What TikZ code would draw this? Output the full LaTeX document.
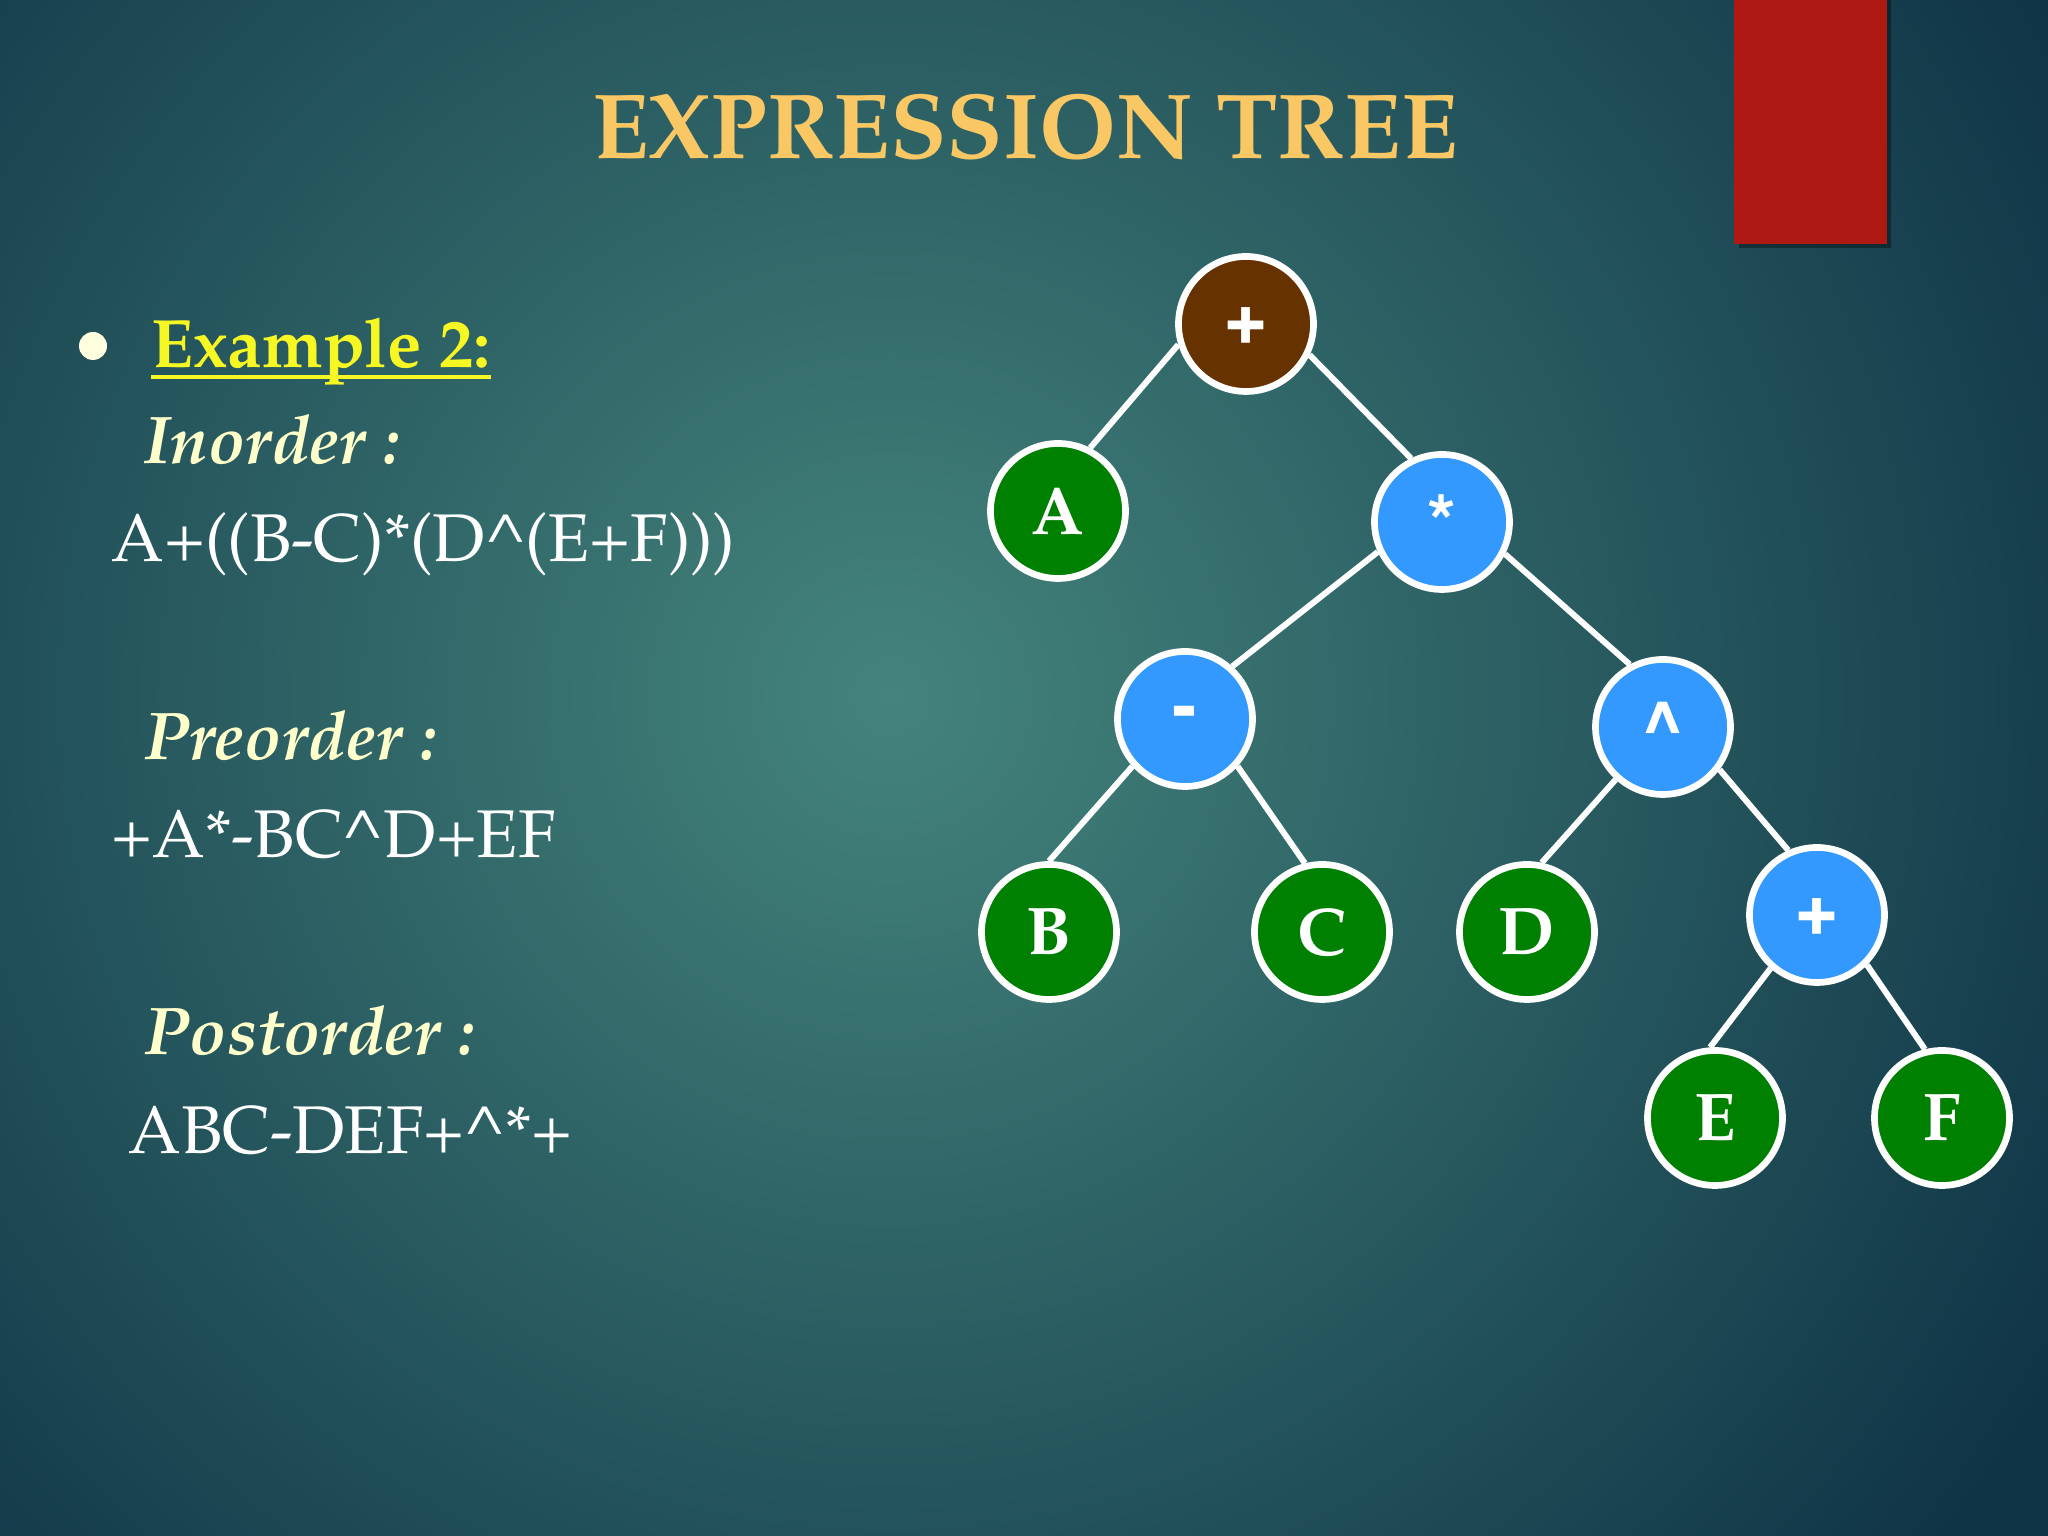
\documentclass[tikz,border=0pt]{standalone}
\usepackage[T1]{fontenc}
\usepackage{mathpazo}
\usepackage{tikz}
\usepackage{xcolor}
\usetikzlibrary{calc}
\definecolor{cBgIn}        {HTML}{44847C}
\definecolor{cBgOut}       {HTML}{0F3446}
\definecolor{cTitle}       {HTML}{F9C764}
\definecolor{cExample}     {HTML}{F7F724}
\definecolor{cOrder}       {HTML}{FFFFCC}
\definecolor{cBullet}      {HTML}{FFFFE0}
\definecolor{cRoot}        {HTML}{663300}
\definecolor{cOper}        {HTML}{3399FF}
\definecolor{cLeaf}        {HTML}{008000}
\definecolor{cBar}         {HTML}{AE1914}

\begin{document}
\begin{tikzpicture}[
    tnode/.style={circle, draw=white, line width=1.9pt, minimum size=13.5mm,
      inner sep=0pt, text=white},
    leaf/.style={tnode, fill=cLeaf, font=\fontsize{19.2}{21}\selectfont\bfseries},
    oper/.style={tnode, fill=cOper, font=\fontsize{21}{23}\fontfamily{phv}\selectfont\bfseries},
    edge/.style={white, line width=1.7pt},
    txt/.style={anchor=base west, inner sep=0pt},
  ]
        \useasboundingbox (0, 0) rectangle (204.8mm, 153.6mm);
        \fill[cBgOut] (0, 0) rectangle (204.8mm, 153.6mm);
        \begin{scope}
          \clip (0, 0) rectangle (204.8mm, 153.6mm);
          \shade[inner color=cBgIn, outer color=cBgOut] (89mm, 84mm) circle (135mm);
        \end{scope}
        \fill[black, opacity=0.35] (173.9mm, 128.8mm) rectangle (189.1mm, 153.6mm);
        \fill[cBar] (173.4mm, 129.2mm) rectangle (188.7mm, 153.6mm);

        \node[anchor=base, inner sep=0pt, text=cTitle, font=\fontsize{26.3}{30}\selectfont\bfseries]
              (title) at (102.5mm, 137.7mm) {EXPRESSION TREE};

        \node[circle, fill=cBullet, minimum size=2.8mm, inner sep=0pt] (bullet) at (9.3mm, 119.0mm) {};
        \node[txt, text=cExample, font=\fontsize{19.5}{22}\selectfont\bfseries]
              (example) at (15.1mm, 116.8mm) {Example 2:};
        \draw[cExample, line width=0.9pt] ($(example.base west)+(0,-0.9mm)$) -- ($(example.base east)+(0,-0.9mm)$);

        \node[txt, text=cOrder, font=\fontsize{19.2}{22}\selectfont\bfseries\itshape]
              (inlabel) at (14.4mm, 107.2mm) {Inorder :};
        \node[txt, text=white, font=\fontsize{19.2}{22}\selectfont]
              (inexpr) at (11.1mm, 97.4mm) {A+((B-C)*(D\textasciicircum(E+F)))};
        \node[txt, text=cOrder, font=\fontsize{19.2}{22}\selectfont\bfseries\itshape]
              (prelabel) at (14.4mm, 77.6mm) {Preorder :};
        \node[txt, text=white, font=\fontsize{19.2}{22}\selectfont]
              (preexpr) at (11.1mm, 67.8mm) {+A*-BC\textasciicircum D+EF};
        \node[txt, text=cOrder, font=\fontsize{19.2}{22}\selectfont\bfseries\itshape]
              (postlabel) at (14.4mm, 48.1mm) {Postorder :};
        \node[txt, text=white, font=\fontsize{19.2}{22}\selectfont]
              (postexpr) at (12.8mm, 38.2mm) {ABC-DEF+\textasciicircum*+};

        \node[oper, fill=cRoot] (root) at (124.6mm, 121.2mm) {+};
        \node[leaf] (A)   at (105.8mm, 102.5mm) {A};
        \node[oper] (mul) at (144.2mm, 101.4mm) {*};
        \node[oper] (sub) at (118.5mm, 81.7mm)  {-};
        \node[oper] (pow) at (166.3mm, 80.9mm)  {\textasciicircum};
        \node[leaf] (B)   at (104.9mm, 60.4mm)  {B};
        \node[leaf] (C)   at (132.2mm, 60.4mm)  {C};
        \node[leaf] (D)   at (152.7mm, 60.4mm)  {D};
        \node[oper] (add) at (181.7mm, 62.1mm)  {+};
        \node[leaf] (E)   at (171.5mm, 41.8mm)  {E};
        \node[leaf] (F)   at (194.2mm, 41.8mm)  {F};

        \draw[edge] (root.197) -- (A.63);
        \draw[edge] (root.334) -- (mul.116);
        \draw[edge] (mul.205) -- (sub.48);
        \draw[edge] (mul.333) -- (pow.118);
        \draw[edge] (sub.222) -- (B.90);
        \draw[edge] (sub.318) -- (C.104);
        \draw[edge] (pow.228) -- (D.78);
        \draw[edge] (pow.323) -- (add.114);
        \draw[edge] (add.229) -- (E.94);
        \draw[edge] (add.315) -- (F.104);
      \end{tikzpicture}
\end{document}
